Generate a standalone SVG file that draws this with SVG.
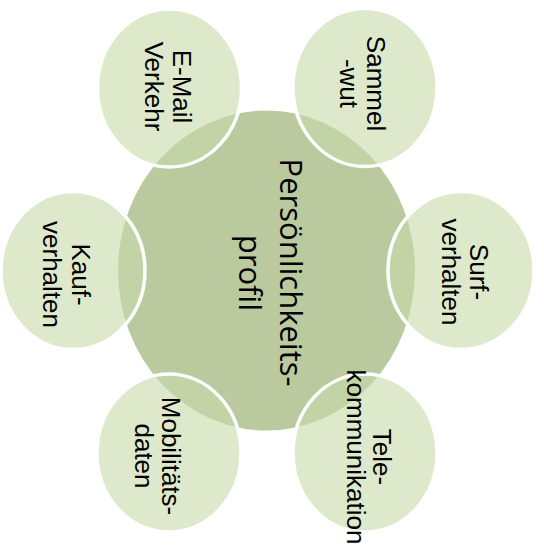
<svg xmlns="http://www.w3.org/2000/svg" width="544" height="551" viewBox="0 0 544 551">
  <style>
    .bg { fill: #ffffff; }
    .hub { fill: #BAC99E; stroke: none; }
    .sat { fill: #C8DAAA; fill-opacity: 0.6; stroke: #ffffff; stroke-width: 3.5; }
    .hubtxt { font-family: "Open Sans", "Liberation Sans", sans-serif; font-size: 31px; fill: #000000; text-anchor: middle; }
    .sattxt { font-family: "Liberation Sans", Arial, sans-serif; font-size: 26px; fill: #000000; text-anchor: middle; }
  </style>
  <rect class="bg" x="0" y="0" width="544" height="551"/>
  <g id="connectors"></g>
  <g id="node-center">
    <ellipse class="hub" cx="266.5" cy="270.5" rx="148.5" ry="160"/>
    <text class="hubtxt" transform="translate(280,272.5) rotate(90)">Persönlichkeits-</text>
    <text class="hubtxt" transform="translate(239,273) rotate(90)">profil</text>
  </g>
  <g id="node-email">
    <ellipse class="sat" cx="169.5" cy="88" rx="72" ry="79"/>
    <text class="sattxt" transform="translate(173,86.5) rotate(90)">E-Mail</text>
    <text class="sattxt" transform="translate(145,86.5) rotate(90)">Verkehr</text>
  </g>
  <g id="node-sammelwut">
    <ellipse class="sat" cx="365" cy="87.5" rx="72" ry="79"/>
    <text class="sattxt" transform="translate(367,83.5) rotate(90)">Sammel</text>
    <text class="sattxt" transform="translate(340,83.5) rotate(90)">-wut</text>
  </g>
  <g id="node-kauf">
    <ellipse class="sat" cx="73" cy="270.5" rx="72" ry="79"/>
    <text class="sattxt" transform="translate(72,274.5) rotate(90)">Kauf-</text>
    <text class="sattxt" transform="translate(43,274.5) rotate(90)">verhalten</text>
  </g>
  <g id="node-surf">
    <ellipse class="sat" cx="461" cy="270.5" rx="73" ry="79"/>
    <text class="sattxt" transform="translate(470,272) rotate(90)">Surf-</text>
    <text class="sattxt" transform="translate(442,272) rotate(90)">verhalten</text>
  </g>
  <g id="node-mobil">
    <ellipse class="sat" cx="169" cy="453" rx="72" ry="79"/>
    <text class="sattxt" transform="translate(162,456) rotate(90)">Mobilitäts-</text>
    <text class="sattxt" transform="translate(135,456) rotate(90)">daten</text>
  </g>
  <g id="node-tele">
    <ellipse class="sat" cx="365" cy="453" rx="72" ry="79"/>
    <text class="sattxt" transform="translate(373,457) rotate(90)">Tele-</text>
    <text class="sattxt" transform="translate(347,457) rotate(90)">kommunikation</text>
  </g>
</svg>
